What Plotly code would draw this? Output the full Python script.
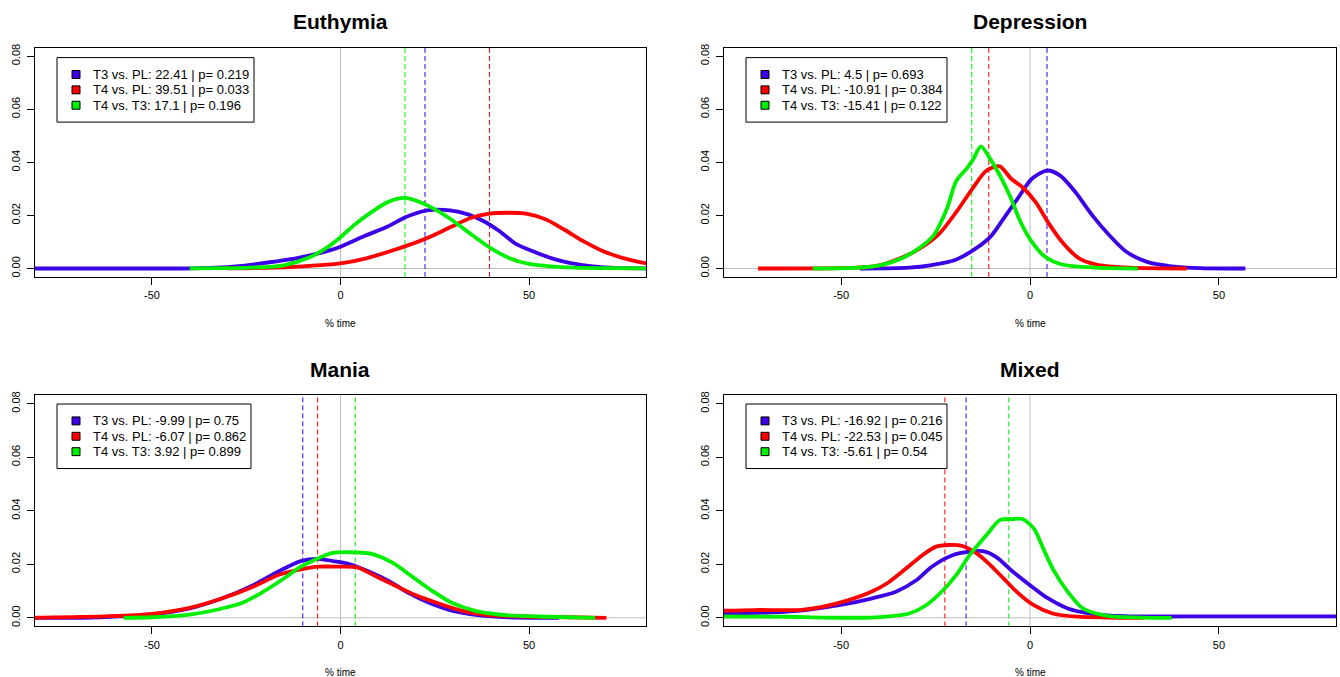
import plotly.graph_objects as go

# ---------------- data ----------------
PANEL_TITLES = ["Euthymia", "Depression", "Mania", "Mixed"]
SERIES_NAMES = ["T3 vs. PL", "T4 vs. PL", "T4 vs. T3"]
SERIES_COLORS = ["#3c00e6", "#ff0000", "#00ee00"]

EU_EST = [22.41, 39.51, 17.1]
EU_P = [0.219, 0.033, 0.196]
DE_EST = [4.5, -10.91, -15.41]
DE_P = [0.693, 0.384, 0.122]
MA_EST = [-9.99, -6.07, 3.92]
MA_P = [0.75, 0.862, 0.899]
MI_EST = [-16.92, -22.53, -5.61]
MI_P = [0.216, 0.045, 0.54]

# Euthymia densities
EU_T3PL_X = [-85, -42, -33, -27, -21, -14, -10, -5, 0, 6.5, 12.5, 17.5, 23, 29, 34, 38, 42, 46.5, 51.5, 56.5, 61, 67, 73, 85]
EU_T3PL_Y = [0, 0, 0.0003, 0.0009, 0.0019, 0.0033, 0.0044, 0.006, 0.0082, 0.0123, 0.0158, 0.0195, 0.0219, 0.0219, 0.0203, 0.0178, 0.0142, 0.0093, 0.0062, 0.0036, 0.002, 0.0008, 0.0002, 0]
EU_T4PL_X = [-30, -20, -10, 0, 6, 12.5, 18, 23.5, 29.5, 34.5, 39.5, 44.5, 49.5, 54.5, 59.5, 64.5, 69.5, 75, 80, 85]
EU_T4PL_Y = [0, 0.0002, 0.0008, 0.0019, 0.0035, 0.0062, 0.0088, 0.0118, 0.0158, 0.019, 0.0207, 0.021, 0.0206, 0.0185, 0.0145, 0.0102, 0.0066, 0.0039, 0.0022, 0.0012]
EU_T4T3_X = [-40, -30, -24, -15, -8.5, -4, 0, 4, 8.5, 12.5, 17, 21.5, 26, 30, 35, 40, 45, 50, 55, 62, 72, 85]
EU_T4T3_Y = [0, 0.0001, 0.0003, 0.0012, 0.004, 0.0075, 0.0118, 0.0168, 0.0215, 0.025, 0.0266, 0.0248, 0.0215, 0.0178, 0.0125, 0.0075, 0.0038, 0.0017, 0.0009, 0.0003, 0.0001, 0]

# Depression densities
DE_T3PL_X = [-45, -32, -26, -20, -15, -10.5, -7, -3, 0.5, 4.5, 8, 12, 16.5, 21, 25.5, 31, 37.5, 45, 57]
DE_T3PL_Y = [0, 0.0003, 0.0013, 0.0031, 0.0069, 0.0119, 0.0188, 0.0269, 0.0338, 0.0369, 0.035, 0.0288, 0.02, 0.0125, 0.0063, 0.0025, 0.0008, 0.0001, 0]
DE_T4PL_X = [-72, -46, -39.5, -34, -28.5, -24, -19.5, -15, -11.5, -8, -5, -2, 1.5, 5, 8.5, 13, 17.5, 26.5, 41.5]
DE_T4PL_Y = [0, 0.0003, 0.0013, 0.004, 0.0081, 0.0131, 0.0213, 0.0306, 0.0369, 0.0385, 0.0338, 0.0306, 0.025, 0.0169, 0.01, 0.0038, 0.0015, 0.0003, 0]
DE_T4T3_X = [-57.5, -45.5, -39.5, -34, -29.5, -25.5, -22, -19.5, -16.5, -15, -13, -10.5, -7.5, -5, -2.5, 0.5, 4, 8.5, 17.5, 28.5]
DE_T4T3_Y = [0, 0.0003, 0.0013, 0.0038, 0.0075, 0.0125, 0.0225, 0.033, 0.0381, 0.0412, 0.046, 0.0412, 0.0338, 0.0263, 0.0175, 0.01, 0.0044, 0.0015, 0.0003, 0]

# Mania densities
MA_T3PL_X = [-85, -70, -61, -50, -40, -31.5, -23, -16.5, -10.5, -6, -2, 2.5, 7.5, 13, 18, 23.5, 29.5, 37, 44.5, 58]
MA_T3PL_Y = [0, 0, 0.0004, 0.0012, 0.0035, 0.0072, 0.0123, 0.0173, 0.0212, 0.022, 0.0212, 0.02, 0.0173, 0.0136, 0.0093, 0.0056, 0.0027, 0.0009, 0.0002, 0]
MA_T4PL_X = [-85, -79, -61, -50, -40, -31.5, -23, -16.5, -10.5, -6, -1, 4.5, 9.5, 15, 20, 25.5, 32, 39, 50, 60, 70.5]
MA_T4PL_Y = [0.0001, 0.0001, 0.0006, 0.0015, 0.0037, 0.0072, 0.0117, 0.016, 0.0181, 0.0191, 0.0191, 0.0188, 0.0154, 0.0117, 0.0084, 0.0056, 0.0027, 0.001, 0.0004, 0.0002, 0]
MA_T4T3_X = [-57.5, -50, -40, -32.5, -26, -21, -15.5, -10.5, -6, -2, 4.5, 8.5, 14, 19, 24.5, 29.5, 36, 44.5, 55, 67.5]
MA_T4T3_Y = [0, 0.0002, 0.0012, 0.0031, 0.0056, 0.0093, 0.0142, 0.0191, 0.0222, 0.0243, 0.0244, 0.0238, 0.0204, 0.0154, 0.0099, 0.0056, 0.0025, 0.0009, 0.0004, 0]

# Mixed densities
MI_T3PL_X = [-85, -68.5, -59.5, -50.5, -42, -35.5, -30, -26, -20.5, -16, -12.5, -9, -4.5, 0, 4.5, 10, 16, 25, 41, 85]
MI_T3PL_Y = [0.0015, 0.002, 0.0029, 0.0047, 0.0072, 0.0097, 0.0141, 0.0191, 0.0234, 0.0247, 0.0249, 0.0228, 0.0172, 0.0122, 0.0075, 0.0035, 0.0016, 0.0006, 0.0005, 0.0005]
MI_T4PL_X = [-85, -73, -60.5, -55, -48, -42, -37.5, -33, -28.5, -25, -21.5, -18, -14, -10.5, -7, -3.5, 1, 6, 12.5, 20.5, 30]
MI_T4PL_Y = [0.0025, 0.0029, 0.003, 0.0041, 0.0066, 0.0097, 0.0132, 0.0182, 0.0234, 0.0265, 0.0272, 0.0269, 0.024, 0.0197, 0.0147, 0.0097, 0.0047, 0.0016, 0.0004, 0.0001, 0]
MI_T4T3_X = [-85, -64, -55, -42, -37.5, -32, -27.5, -23, -19.5, -16, -11.5, -8, -4.5, -2, 1, 3.5, 6, 10, 14, 20.5, 29.5, 37.5]
MI_T4T3_Y = [0.0005, 0.0004, 0.0001, 0.0001, 0.0005, 0.0016, 0.0047, 0.0103, 0.016, 0.0234, 0.0309, 0.0365, 0.0369, 0.0369, 0.0334, 0.0259, 0.0184, 0.0097, 0.0035, 0.0007, 0.0001, 0]

X_TICKS = [-50, 0, 50]
X_TICKTEXT = ["-50", "0", "50"]
Y_TICKS = [0, 0.02, 0.04, 0.06, 0.08]
Y_TICKTEXT = ["0.00", "0.02", "0.04", "0.06", "0.08"]
X_LABEL = "% time"

# ---------------- assembly ----------------
PANELS = [
    (EU_EST, EU_P, [(EU_T3PL_X, EU_T3PL_Y), (EU_T4PL_X, EU_T4PL_Y), (EU_T4T3_X, EU_T4T3_Y)]),
    (DE_EST, DE_P, [(DE_T3PL_X, DE_T3PL_Y), (DE_T4PL_X, DE_T4PL_Y), (DE_T4T3_X, DE_T4T3_Y)]),
    (MA_EST, MA_P, [(MA_T3PL_X, MA_T3PL_Y), (MA_T4PL_X, MA_T4PL_Y), (MA_T4T3_X, MA_T4T3_Y)]),
    (MI_EST, MI_P, [(MI_T3PL_X, MI_T3PL_Y), (MI_T4PL_X, MI_T4PL_Y), (MI_T4T3_X, MI_T4T3_Y)]),
]

W, H = 1340, 677
FONT = "Liberation Sans, Arial, sans-serif"
X_DOMS_PX = [(35, 646), (724, 1336), (35, 646), (724, 1336)]
Y_DOMS_PX = [(44, 275), (44, 275), (394, 627), (394, 627)]
LEGEND_BOX_PX = [(57, 54, 254, 119), (746, 54, 947, 119), (57, 403, 251, 468), (746, 403, 947, 468)]
LEGEND_ROW_DY = [17, 32.5, 48]
TITLE_Y_PX = [18, 18, 368, 368]
XLABEL_Y_PX = [322, 322, 673, 673]


def px_x(p):
    return p / W


def px_y(p):
    return 1 - p / H


fig = go.Figure()
shapes = []
annotations = []
layout = dict(
    width=W, height=H, autosize=False,
    margin=dict(l=0, r=0, t=0, b=0),
    paper_bgcolor="white", plot_bgcolor="white",
    font=dict(family=FONT, color="black"),
    showlegend=False,
)

for i, (est, pv, curves) in enumerate(PANELS):
    n = i + 1
    xa = "x" if n == 1 else f"x{n}"
    ya = "y" if n == 1 else f"y{n}"
    x0, x1 = X_DOMS_PX[i]
    yt, yb = Y_DOMS_PX[i]
    layout["xaxis" if n == 1 else f"xaxis{n}"] = dict(
        domain=[px_x(x0), px_x(x1)], range=[-81, 81], anchor=ya,
        showline=True, mirror=True, linecolor="black", linewidth=1,
        ticks="outside", ticklen=7, tickwidth=1, tickcolor="black",
        tickvals=X_TICKS, ticktext=X_TICKTEXT, showgrid=False, zeroline=False,
        tickfont=dict(family=FONT, size=11, color="black"),
        ticklabelstandoff=1, fixedrange=True,
    )
    layout["yaxis" if n == 1 else f"yaxis{n}"] = dict(
        domain=[px_y(yb), px_y(yt)], range=[-0.0032, 0.0832], anchor=xa,
        showline=True, mirror=True, linecolor="black", linewidth=1,
        ticks="outside", ticklen=7, tickwidth=1, tickcolor="black",
        tickvals=Y_TICKS, ticktext=Y_TICKTEXT, tickangle=-90,
        showgrid=False, zeroline=False,
        tickfont=dict(family=FONT, size=11, color="black"),
        ticklabelstandoff=3, fixedrange=True,
    )

    # reference lines (drawn below curves)
    shapes.append(dict(type="line", xref=xa, yref=f"{ya} domain", x0=0, x1=0, y0=0, y1=1,
                       line=dict(color="#bebebe", width=1), layer="below"))
    shapes.append(dict(type="line", xref=f"{xa} domain", yref=ya, x0=0, x1=1, y0=0, y1=0,
                       line=dict(color="#bebebe", width=1), layer="below"))
    for k in range(3):
        shapes.append(dict(type="line", xref=xa, yref=f"{ya} domain", x0=est[k], x1=est[k], y0=0, y1=1,
                           line=dict(color=SERIES_COLORS[k], width=1, dash="5px,3px"), layer="below"))

    for k, (cx, cy) in enumerate(curves):
        fig.add_trace(go.Scatter(
            x=cx, y=cy, mode="lines", xaxis=xa, yaxis=ya,
            name=f"{PANEL_TITLES[i]} - {SERIES_NAMES[k]}",
            line=dict(color=SERIES_COLORS[k], width=3.8, shape="spline", smoothing=0.8),
            showlegend=False, hoverinfo="skip", cliponaxis=True,
        ))

    # legend box (R-style: filled squares + labels)
    bl, bt, br, bb = LEGEND_BOX_PX[i]
    shapes.append(dict(type="rect", xref="paper", yref="paper",
                       x0=px_x(bl), x1=px_x(br), y0=px_y(bb), y1=px_y(bt),
                       line=dict(color="black", width=1), fillcolor="white", layer="above"))
    for k in range(3):
        cy_px = bt + LEGEND_ROW_DY[k]
        sq_cx = bl + 19
        shapes.append(dict(type="rect", xref="paper", yref="paper",
                           x0=px_x(sq_cx - 4), x1=px_x(sq_cx + 4),
                           y0=px_y(cy_px + 4), y1=px_y(cy_px - 4),
                           line=dict(color="black", width=1), fillcolor=SERIES_COLORS[k], layer="above"))
        annotations.append(dict(text=f"{SERIES_NAMES[k]}: {est[k]} | p= {pv[k]}",
                                xref="paper", yref="paper", x=px_x(bl + 34), y=px_y(cy_px),
                                xanchor="left", yanchor="middle", showarrow=False,
                                font=dict(family=FONT, size=13, color="black")))

    cx_px = (x0 + x1) / 2
    annotations.append(dict(text=f"<b>{PANEL_TITLES[i]}</b>", xref="paper", yref="paper",
                            x=px_x(cx_px), y=px_y(TITLE_Y_PX[i]), xanchor="center", yanchor="middle",
                            showarrow=False, font=dict(family=FONT, size=21, color="black")))
    annotations.append(dict(text=X_LABEL, xref="paper", yref="paper",
                            x=px_x(cx_px), y=px_y(XLABEL_Y_PX[i]), xanchor="center", yanchor="middle",
                            showarrow=False, font=dict(family=FONT, size=10, color="black")))

layout["shapes"] = shapes
layout["annotations"] = annotations
fig.update_layout(**layout)
fig.write_html("out.html", config={"displayModeBar": False, "staticPlot": True},
               post_script="document.body.style.margin='0';document.body.style.padding='0';")
